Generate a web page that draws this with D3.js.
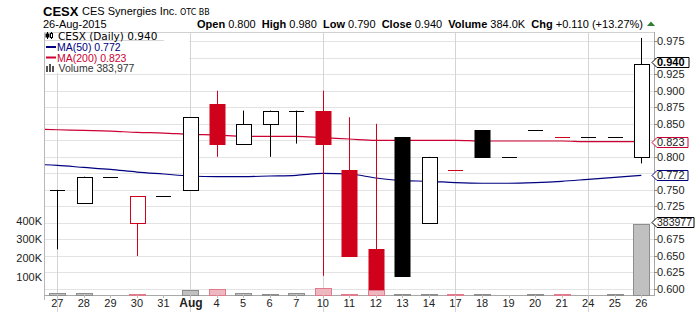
<!DOCTYPE html>
<html><head><meta charset="utf-8">
<script src="https://cdn.jsdelivr.net/npm/d3@7/dist/d3.min.js"></script>
<style>
body{margin:0;background:#fff;}
svg{display:block;font-family:"Liberation Sans",Arial,sans-serif;}
</style></head>
<body>
<script>
// ---------- data ----------
const categories = ["2015-07-27","2015-07-28","2015-07-29","2015-07-30","2015-07-31","2015-08-03","2015-08-04","2015-08-05","2015-08-06","2015-08-07","2015-08-10","2015-08-11","2015-08-12","2015-08-13","2015-08-14","2015-08-17","2015-08-18","2015-08-19","2015-08-20","2015-08-21","2015-08-24","2015-08-25","2015-08-26"];
const tickLabels = ["27","28","29","30","31","Aug","4","5","6","7","10","11","12","13","14","17","18","19","20","21","24","25","26"];
const openVals  = [0.75,0.73,0.77,0.70,0.74,0.75,0.88,0.82,0.85,0.87,0.87,0.78,0.66,0.83,0.70,0.78,0.84,0.80,0.84,0.83,0.83,0.83,0.80];
const highVals  = [0.75,0.77,0.77,0.74,0.74,0.86,0.90,0.87,0.87,0.87,0.90,0.86,0.85,0.83,0.80,0.78,0.84,0.80,0.84,0.83,0.83,0.83,0.98];
const lowVals   = [0.66,0.73,0.77,0.65,0.74,0.75,0.80,0.82,0.80,0.82,0.62,0.65,0.60,0.62,0.70,0.78,0.80,0.80,0.84,0.83,0.83,0.83,0.79];
const closeVals = [0.75,0.77,0.77,0.74,0.74,0.86,0.82,0.85,0.87,0.87,0.82,0.65,0.60,0.62,0.80,0.78,0.80,0.80,0.84,0.83,0.83,0.83,0.94];
const volumeVals = [12000,12000,0,6000,0,29000,33000,12000,8000,12000,40000,8000,28000,8000,8000,8000,8000,0,8000,8000,0,8000,383977];
// moving averages: first value belongs to the session before the first category (2015-07-24)
const ma50Vals  = [0.789,0.787,0.784,0.781,0.777,0.774,0.771,0.770,0.770,0.771,0.772,0.775,0.774,0.768,0.764,0.763,0.761,0.760,0.760,0.761,0.763,0.766,0.769,0.772];
const ma200Vals = [0.842,0.841,0.840,0.839,0.837,0.836,0.834,0.833,0.831,0.831,0.831,0.829,0.827,0.825,0.825,0.825,0.825,0.824,0.824,0.824,0.824,0.823,0.823,0.823];
const priceTicks = [0.600,0.625,0.650,0.675,0.700,0.725,0.750,0.775,0.800,0.825,0.850,0.875,0.900,0.925,0.950,0.975];
const priceTickLabels = ["0.600","0.625","0.650","0.675","","0.725","0.750","","0.800","","0.850","0.875","0.900","0.925","","0.975"];
const volumeTicks = [100000,200000,300000,400000];
const volumeTickLabels = ["100K","200K","300K","400K"];
const headerSymbol = "CESX";
const headerName = "CES Synergies Inc.";
const headerExchange = "OTC BB";
const headerDate = "26-Aug-2015";
const headerStats = [["Open","0.800"],["High","0.980"],["Low","0.790"],["Close","0.940"],["Volume","384.0K"],["Chg","+0.110 (+13.27%)"]];
const legendRows = ["CESX (Daily) 0.940","MA(50) 0.772","MA(200) 0.823","Volume 383,977"];
const lastLabels = {close:"0.940", ma200:"0.823", ma50:"0.772", volume:"383977"};

// ---------- layout ----------
const W=700,H=312, L=44, R=654, T=32, B=295;
const RED="#d0021b", RED2="#cc0033", NAVY="#000080";
const n = categories.length;
const svg = d3.select("body").append("svg").attr("width",W).attr("height",H);
const x = d3.scaleLinear().domain([0,n-1]).range([57.3,641.3]);
const y = d3.scaleLinear().domain([0.6,0.975]).range([289,41.2]);
const yv = d3.scaleLinear().domain([0,400000]).range([295.5,220.5]);
const px = v => Math.round(v)+0.5;

svg.append("clipPath").attr("id","plot").append("rect").attr("x",L+1).attr("y",T).attr("width",R-L-1).attr("height",B-T);

// horizontal gridlines
svg.append("g").selectAll("line").data(priceTicks).join("line")
  .attr("x1",L).attr("x2",R).attr("y1",d=>px(y(d))).attr("y2",d=>px(y(d)))
  .attr("stroke","#e3e3e3");
// weekly vertical gridlines (Mondays)
const mondays = categories.map((c,i)=>({c,i})).filter(d=>new Date(d.c+"T12:00:00").getDay()===1);
svg.append("g").selectAll("line").data(mondays).join("line")
  .attr("x1",d=>px(x(d.i))).attr("x2",d=>px(x(d.i))).attr("y1",T).attr("y2",H)
  .attr("stroke","#d4d4d4");

// frame
svg.append("line").attr("x1",L+0.5).attr("x2",L+0.5).attr("y1",T).attr("y2",B+5).attr("stroke","#b8b8b8");
svg.append("line").attr("x1",L).attr("x2",R).attr("y1",T+0.5).attr("y2",T+0.5).attr("stroke","#d0d0d0");
svg.append("line").attr("x1",L).attr("x2",R+1).attr("y1",B+0.5).attr("y2",B+0.5).attr("stroke","#a8a8a8");
svg.append("line").attr("x1",R+0.5).attr("x2",R+0.5).attr("y1",T).attr("y2",B+1).attr("stroke","#a8a8a8");

// direction helpers
const isRed = i => i>0 && closeVals[i] < closeVals[i-1];

// volume bars
svg.append("g").selectAll("rect").data(volumeVals.map((v,i)=>({v,i})).filter(d=>d.v>0)).join("rect")
  .attr("x",d=>Math.round(x(d.i))-7.5).attr("width",16)
  .attr("y",d=>Math.round(yv(d.v))+0.5).attr("height",d=>Math.max(1,295-Math.round(yv(d.v))))
  .attr("fill",d=>isRed(d.i)?"#eeb8c1":"#c0c0c0")
  .attr("stroke",d=>isRed(d.i)?"#e07a8c":"#8e8e8e");

// moving averages
const maLine = d3.line().x((d,i)=>x(i-1)).y(d=>y(d)).curve(d3.curveMonotoneX);
const gl = svg.append("g").attr("clip-path","url(#plot)");
gl.append("path").attr("d",maLine(ma200Vals)).attr("fill","none").attr("stroke",RED2).attr("stroke-width",1.2);
gl.append("path").attr("d",maLine(ma50Vals)).attr("fill","none").attr("stroke",NAVY).attr("stroke-width",1.2);

// candles
const gc = svg.append("g");
for(let i=0;i<n;i++){
  const col = isRed(i)?RED:"#000";
  const cx = Math.round(x(i));
  const o=openVals[i], c=closeVals[i], h=highVals[i], l=lowVals[i];
  const top = Math.round(y(Math.max(o,c))), bot = Math.round(y(Math.min(o,c)));
  if(h>l) gc.append("line").attr("x1",cx+0.5).attr("x2",cx+0.5).attr("y1",y(h)).attr("y2",y(l)).attr("stroke",col);
  if(o===c){
    gc.append("line").attr("x1",cx-7).attr("x2",cx+8).attr("y1",top+0.5).attr("y2",top+0.5).attr("stroke",col);
  } else if(c>o){
    gc.append("rect").attr("x",cx-7+0.5).attr("width",15).attr("y",top+0.5).attr("height",bot-top)
      .attr("fill","#fff").attr("stroke",col);
  } else {
    gc.append("rect").attr("x",cx-7.5).attr("width",16).attr("y",top).attr("height",bot-top+1)
      .attr("fill",col);
  }
}

// right axis ticks + labels
const ga = svg.append("g");
priceTicks.forEach((t,k)=>{
  ga.append("line").attr("x1",R).attr("x2",R+3).attr("y1",px(y(t))).attr("y2",px(y(t))).attr("stroke","#888");
  if(priceTickLabels[k]) ga.append("text").attr("x",R+3).attr("y",y(t)+4).attr("font-size",11).attr("fill","#222").text(priceTickLabels[k]);
});
// left volume labels
volumeTicks.forEach((t,k)=>{
  svg.append("text").attr("x",42).attr("y",yv(t)+4).attr("text-anchor","end").attr("font-size",11).attr("fill","#222").text(volumeTickLabels[k]);
});
// x labels
tickLabels.forEach((t,i)=>{
  const isMonth = isNaN(+t);
  svg.append("text").attr("x",x(i)+(isMonth?1:0)).attr("y",307).attr("text-anchor","middle")
    .attr("font-size",isMonth?12:11).attr("font-weight",isMonth?"bold":"normal").attr("fill","#222").text(t);
  svg.append("line").attr("x1",px(x(i))).attr("x2",px(x(i))).attr("y1",B).attr("y2",B+3).attr("stroke","#bbb");
});

// value flags on right axis
function flag(val, text, color, bold, w, fs){
  const cy = Math.round(val)+0.5, x0=R-2;
  svg.append("path").attr("d",`M${x0},${cy} L${x0+5},${cy-5} L${x0+w},${cy-5} L${x0+w},${cy+5} L${x0+5},${cy+5} Z`)
    .attr("fill","#fff").attr("stroke",color);
  svg.append("text").attr("x",x0+5).attr("y",cy+3.8).attr("font-size",fs).attr("font-weight",bold?"bold":"normal")
    .attr("fill",bold?"#000":"#222").text(text);
}
flag(y(closeVals[n-1])-2, lastLabels.close, "#000", true, 37, 11);
flag(y(ma200Vals[ma200Vals.length-1]), lastLabels.ma200, RED2, false, 36, 11);
flag(y(ma50Vals[ma50Vals.length-1]), lastLabels.ma50, NAVY, false, 36, 11);
flag(yv(volumeVals[n-1])-1.5, lastLabels.volume, "#000", false, 42, 10.5);

// legend
svg.append("rect").attr("x",L+1).attr("y",T+1).attr("width",144).attr("height",40).attr("fill","#fff");
svg.append("line").attr("x1",L+1).attr("x2",164).attr("y1",40.5).attr("y2",40.5).attr("stroke","#d8d8d8");
// candle icon
const ic = svg.append("g").attr("stroke","#000");
ic.append("line").attr("x1",47.5).attr("x2",47.5).attr("y1",32).attr("y2",39);
ic.append("rect").attr("x",46).attr("y",34).attr("width",3).attr("height",3).attr("fill","#000");
ic.append("line").attr("x1",51.5).attr("x2",51.5).attr("y1",32).attr("y2",39);
ic.append("rect").attr("x",50.5).attr("y",33.5).attr("width",2).attr("height",4).attr("fill","#fff");
svg.append("text").attr("x",58).attr("y",39.5).attr("font-family","'DejaVu Sans',Verdana,sans-serif").attr("font-size",10.5).attr("fill","#000").text(legendRows[0]);
svg.append("rect").attr("x",46).attr("y",46).attr("width",10).attr("height",2).attr("fill",NAVY);
svg.append("text").attr("x",57).attr("y",51).attr("font-size",10.5).attr("fill",NAVY).text(legendRows[1]);
svg.append("rect").attr("x",46).attr("y",56.5).attr("width",10).attr("height",2).attr("fill",RED2);
svg.append("text").attr("x",57).attr("y",61.5).attr("font-size",10.5).attr("fill",RED2).text(legendRows[2]);
[[46,66,3,6],[49,64,3,8],[52,66,3,6]].forEach(b=>svg.append("rect").attr("x",b[0]).attr("y",b[1]).attr("width",b[2]-1).attr("height",b[3]).attr("fill","#555"));
svg.append("text").attr("x",58.5).attr("y",72).attr("font-size",10.5).attr("fill","#333").text(legendRows[3]);

// header
svg.append("text").attr("x",43).attr("y",15.5).attr("font-size",13).attr("font-weight","bold").attr("fill","#000").text(headerSymbol);
svg.append("text").attr("x",82).attr("y",15).attr("font-size",11).attr("fill","#000").text(headerName);
svg.append("text").attr("x",180).attr("y",15).attr("font-family","'DejaVu Sans',Verdana,sans-serif").attr("font-size",8).attr("fill","#000").text(headerExchange);
svg.append("text").attr("x",43).attr("y",28).attr("font-size",11).attr("fill","#000").text(headerDate);
const st = svg.append("text").attr("x",643).attr("y",28).attr("text-anchor","end").attr("font-size",11).attr("fill","#000");
headerStats.forEach((s,k)=>{
  st.append("tspan").attr("font-weight","bold").text((k?"\u00a0\u00a0":"")+s[0]+"\u00a0");
  st.append("tspan").text(s[1]);
});
svg.append("path").attr("d","M647,26 L651,21.5 L655,26 Z").attr("fill","#2e7d32");
</script>
</body></html>
